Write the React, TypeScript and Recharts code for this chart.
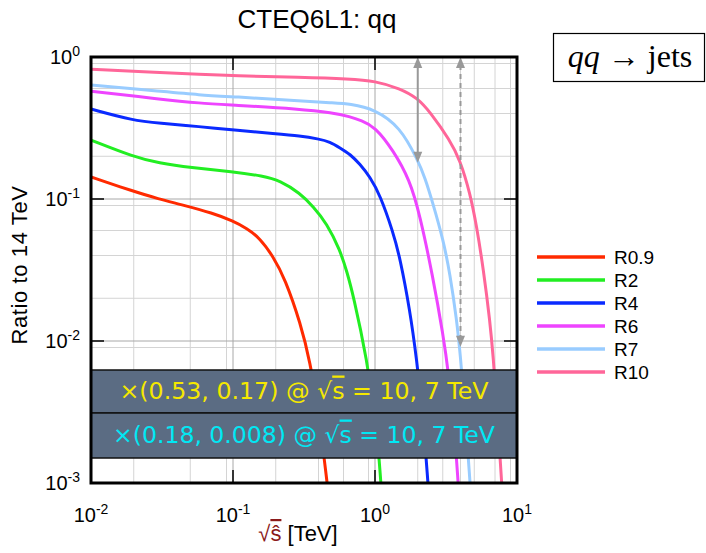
import React from 'react';
import {
  LineChart,
  Line,
  XAxis,
  YAxis,
  CartesianGrid,
  ReferenceLine,
  ReferenceArea,
} from 'recharts';

// ratio curves (x = sqrt(s-hat) in TeV)
const r09X = [0.01, 0.02, 0.03, 0.0423, 0.0726, 0.1, 0.125, 0.155, 0.192, 0.232, 0.3, 0.348, 0.4, 0.46];
const r09Y = [0.143, 0.113, 0.1, 0.0918, 0.0794, 0.07, 0.0622, 0.0529, 0.0393, 0.0276, 0.0132, 0.0072, 0.0032, 0.001];

const r2X = [0.01, 0.02, 0.03, 0.05, 0.1, 0.163, 0.214, 0.296, 0.368, 0.457, 0.567, 0.635, 0.7, 0.875, 1.03, 1.1];
const r2Y = [0.26, 0.198, 0.179, 0.166, 0.156, 0.145, 0.135, 0.11, 0.0883, 0.0675, 0.0438, 0.0306, 0.0214, 0.0076, 0.00244, 0.001];

const r4X = [0.01, 0.02, 0.03, 0.0586, 0.1, 0.2, 0.296, 0.4, 0.482, 0.567, 0.667, 0.783, 0.922, 1.084, 1.34, 1.5, 1.76, 1.96, 2.18, 2.36];
const r4Y = [0.43, 0.356, 0.343, 0.323, 0.306, 0.288, 0.278, 0.265, 0.253, 0.229, 0.207, 0.176, 0.143, 0.107, 0.0586, 0.0385, 0.0165, 0.0076, 0.0029, 0.001];

const r6X = [0.01, 0.03, 0.0586, 0.1, 0.296, 0.5, 0.667, 0.8, 1, 1.34, 1.76, 2.07, 2.55, 3.03, 3.28, 3.66, 3.85];
const r6Y = [0.575, 0.506, 0.472, 0.459, 0.43, 0.405, 0.38, 0.357, 0.323, 0.221, 0.136, 0.077, 0.0287, 0.0108, 0.0062, 0.0021, 0.001];

const r7X = [0.01, 0.03, 0.0586, 0.1, 0.296, 0.5, 0.667, 1, 1.5, 2, 2.25, 2.55, 3.03, 3.37, 3.76, 3.98, 4.32, 4.67];
const r7Y = [0.635, 0.575, 0.54, 0.525, 0.492, 0.475, 0.468, 0.428, 0.323, 0.188, 0.141, 0.094, 0.051, 0.0299, 0.0141, 0.0082, 0.0031, 0.001];

const r10X = [0.01, 0.03, 0.0586, 0.1, 0.3, 0.667, 1, 1.5, 2, 2.44, 3.37, 3.97, 4.67, 5.2, 5.8, 6.46, 6.81, 7.19, 7.8];
const r10Y = [0.82, 0.78, 0.755, 0.738, 0.72, 0.7, 0.678, 0.6, 0.512, 0.41, 0.26, 0.188, 0.11, 0.064, 0.032, 0.0136, 0.0076, 0.0036, 0.001];

const seriesNames = ['R0.9', 'R2', 'R4', 'R6', 'R7', 'R10'];
const seriesColors = ['#ff2a00', '#22ee22', '#0a2aff', '#ee44ff', '#99ccff', '#ff6699'];
const seriesX = [r09X, r2X, r4X, r6X, r7X, r10X];
const seriesY = [r09Y, r2Y, r4Y, r6Y, r7Y, r10Y];

const xTicks = [0.01, 0.1, 1, 10];
const yTicks = [0.001, 0.01, 0.1, 1];
const xMinor = [0.02, 0.03, 0.04, 0.05, 0.06, 0.07, 0.08, 0.09, 0.2, 0.3, 0.4, 0.5, 0.6, 0.7, 0.8, 0.9, 2, 3, 4, 5, 6, 7, 8, 9];
const yMinor = [0.002, 0.003, 0.004, 0.005, 0.006, 0.007, 0.008, 0.009, 0.02, 0.03, 0.04, 0.05, 0.06, 0.07, 0.08, 0.09, 0.2, 0.3, 0.4, 0.5, 0.6, 0.7, 0.8, 0.9];

// arrows marking the 10 and 7 TeV reach
const arrowSolid = { x: 2, yTop: 1, yBottom: 0.18 };
const arrowDashed = { x: 4, yTop: 1, yBottom: 0.0091 };

// annotation bands
const bandYellow = { y1: 0.00311, y2: 0.00625 };
const bandCyan = { y1: 0.0015, y2: 0.00311 };

const W = 706;
const H = 553;
const PL = 91;
const PT = 57;
const PR = 517;
const PB = 483;
const FONT = '"Liberation Sans", Arial, Helvetica, sans-serif';

const sup = (v: number) => String(Math.round(Math.log10(v)));

const XTick = (props: any) => {
  const { x, payload } = props;
  return (
    <g>
      <line x1={x} y1={PB} x2={x} y2={PB - 13} stroke="#000" strokeWidth={1.5} />
      <line x1={x} y1={PT} x2={x} y2={PT + 13} stroke="#000" strokeWidth={1.5} />
      <text x={x} y={522} textAnchor="middle" fontSize={20} fill="#000" fontFamily={FONT}>
        10<tspan dy={-8} fontSize={14}>{sup(payload.value)}</tspan>
      </text>
    </g>
  );
};

const YTick = (props: any) => {
  const { y, payload } = props;
  return (
    <g>
      <line x1={PL} y1={y} x2={PL + 13} y2={y} stroke="#000" strokeWidth={1.5} />
      <line x1={PR} y1={y} x2={PR - 13} y2={y} stroke="#000" strokeWidth={1.5} />
      <text x={80} y={y + 7} textAnchor="end" fontSize={20} fill="#000" fontFamily={FONT}>
        10<tspan dy={-8} fontSize={14}>{sup(payload.value)}</tspan>
      </text>
    </g>
  );
};

const arrowShape = (dashed: boolean) => (p: any) => {
  const x = p.x1;
  const top = Math.min(p.y1, p.y2);
  const bottom = Math.max(p.y1, p.y2);
  return (
    <g>
      <line x1={x} y1={top + 8} x2={x} y2={bottom - 8} stroke="#999" strokeWidth={2} strokeDasharray={dashed ? '5 4' : undefined} />
      <polygon points={`${x},${top} ${x - 4.5},${top + 11} ${x + 4.5},${top + 11}`} fill="#999" />
      <polygon points={`${x},${bottom} ${x - 4.5},${bottom - 11} ${x + 4.5},${bottom - 11}`} fill="#999" />
    </g>
  );
};

const bandLabel = (pre: string, color: string, len: number) => (props: any) => {
  const vb = props.viewBox || { x: PL, y: 0, width: PR - PL, height: 0 };
  return (
    <text
      x={vb.x + vb.width / 2}
      y={vb.y + vb.height / 2 + 7}
      textAnchor="middle"
      fill={color}
      fontSize={23}
      fontFamily='"DejaVu Sans", sans-serif'
      textLength={len}
      lengthAdjust="spacingAndGlyphs"
    >
      {pre} @ √<tspan style={{ textDecoration: 'overline' }}>s</tspan> = 10, 7 TeV
    </text>
  );
};

export default function App() {
  return (
    <div style={{ position: 'absolute', left: 0, top: 0, width: W, height: H, background: '#fff', fontFamily: FONT }}>
      <LineChart width={W} height={H} margin={{ top: PT, right: W - PR, bottom: 0, left: 0 }}>
        <CartesianGrid
          stroke="#d4d4d4"
          strokeWidth={1}
          verticalValues={xMinor}
          horizontalValues={yMinor}
        />
        <XAxis
          dataKey="x"
          type="number"
          scale="log"
          domain={[0.01, 10]}
          allowDataOverflow
          ticks={xTicks}
          height={H - PB}
          tickLine={false}
          axisLine={false}
          tick={(props: any) => <XTick {...props} />}
        />
        <YAxis
          dataKey="y"
          type="number"
          scale="log"
          domain={[0.001, 1]}
          allowDataOverflow
          ticks={yTicks}
          width={PL}
          tickLine={false}
          axisLine={false}
          tick={(props: any) => <YTick {...props} />}
        />
        {xTicks.map(v => (
          <ReferenceLine key={'vx' + v} x={v} stroke="#a8a8a8" strokeWidth={1} />
        ))}
        {yTicks.map(v => (
          <ReferenceLine key={'hy' + v} y={v} stroke="#a8a8a8" strokeWidth={1} />
        ))}
        {seriesNames.map((name, i) => (
          <Line
            key={name}
            data={seriesX[i].map((x, j) => ({ x, y: seriesY[i][j] }))}
            dataKey="y"
            name={name}
            type="basis"
            stroke={seriesColors[i]}
            strokeWidth={3}
            dot={false}
            isAnimationActive={false}
          />
        ))}
        <ReferenceLine
          segment={[{ x: arrowSolid.x, y: arrowSolid.yTop }, { x: arrowSolid.x, y: arrowSolid.yBottom }]}
          shape={arrowShape(false)}
          zIndex={500}
        />
        <ReferenceLine
          segment={[{ x: arrowDashed.x, y: arrowDashed.yTop }, { x: arrowDashed.x, y: arrowDashed.yBottom }]}
          shape={arrowShape(true)}
          zIndex={500}
        />
        <ReferenceArea
          x1={0.01}
          x2={10}
          y1={bandYellow.y1}
          y2={bandYellow.y2}
          fill="#5b6c83"
          fillOpacity={1}
          stroke="#111"
          strokeWidth={1.5}
          zIndex={600}
          label={bandLabel('×(0.53, 0.17)', '#f5e800', 369)}
        />
        <ReferenceArea
          x1={0.01}
          x2={10}
          y1={bandCyan.y1}
          y2={bandCyan.y2}
          fill="#5b6c83"
          fillOpacity={1}
          stroke="#111"
          strokeWidth={1.5}
          zIndex={600}
          label={bandLabel('×(0.18, 0.008)', '#00e8f4', 382)}
        />
        <ReferenceArea
          x1={0.01}
          x2={10}
          y1={0.001}
          y2={1}
          fill="none"
          fillOpacity={0}
          stroke="#000"
          strokeWidth={3}
          zIndex={700}
        />
      </LineChart>

      <svg width={W} height={H} style={{ position: 'absolute', left: 0, top: 0, pointerEvents: 'none' }}>
        <text x={317} y={28} textAnchor="middle" fontSize={26} fontFamily={FONT} fill="#000">CTEQ6L1: qq</text>
        <text transform="translate(27,265) rotate(-90)" textAnchor="middle" fontSize={22} letterSpacing={0.6} fontFamily={FONT} fill="#000">
          Ratio to 14 TeV
        </text>
        <text x={298} y={541} textAnchor="middle" fontSize={22} fontFamily={FONT} fill="#000">
          <tspan fill="#8b1a1a">√</tspan>
          <tspan fill="#8b1a1a" style={{ textDecoration: 'overline' }}>ŝ</tspan> [TeV]
        </text>

        {seriesNames.map((name, i) => (
          <g key={name}>
            <line x1={537} y1={257 + i * 23} x2={605} y2={257 + i * 23} stroke={seriesColors[i]} strokeWidth={3.5} />
            <text x={614} y={264 + i * 23} fontSize={19} fontFamily={FONT} fill="#000">{name}</text>
          </g>
        ))}

        <rect x={553.5} y={33.5} width={151} height={48} fill="#fff" stroke="#000" strokeWidth={1.2} />
        <text x={630} y={67} textAnchor="middle" fontSize={32} fontFamily='"Liberation Serif", "DejaVu Serif", serif' fill="#000">
          <tspan fontStyle="italic">qq</tspan> → jets
        </text>
      </svg>
    </div>
  );
}
